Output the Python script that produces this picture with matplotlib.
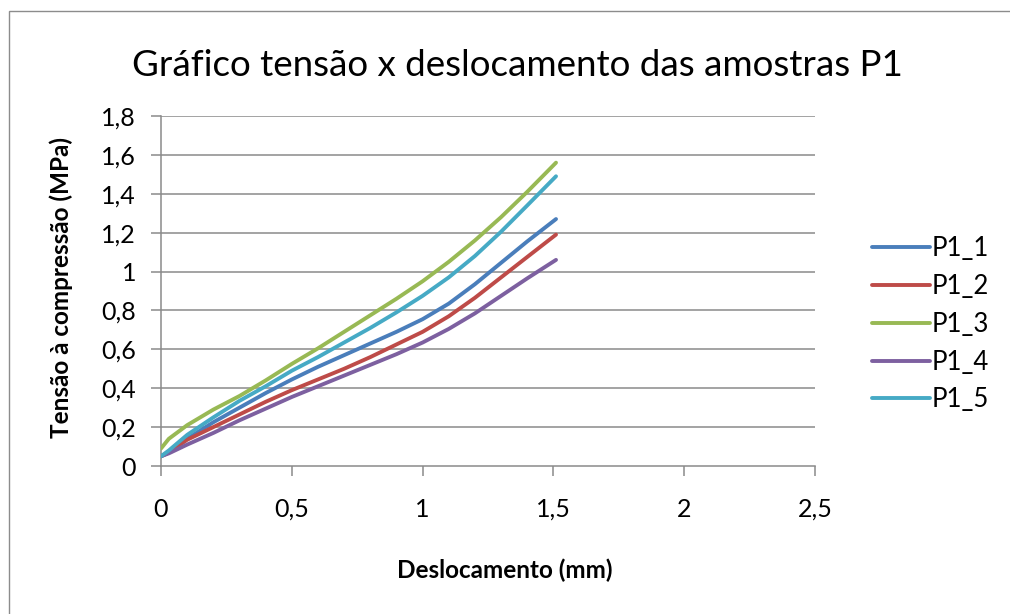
import matplotlib
matplotlib.use("Agg")
import matplotlib.pyplot as plt
from matplotlib.patches import Rectangle
from matplotlib.ticker import FuncFormatter

plt.rcParams['font.family'] = ['Lato', 'DejaVu Sans']

# Displacement (mm) sample points
deslocamento = [0.0, 0.03, 0.10, 0.20, 0.30, 0.40, 0.50, 0.60, 0.70, 0.80,
                0.90, 1.00, 1.10, 1.20, 1.30, 1.40, 1.51]

# Compressive stress (MPa) for each specimen
p1_1 = [0.05, 0.07, 0.14, 0.225, 0.30, 0.375, 0.445, 0.51, 0.57, 0.63,
        0.69, 0.755, 0.835, 0.935, 1.045, 1.155, 1.27]
p1_2 = [0.05, 0.07, 0.135, 0.20, 0.265, 0.33, 0.39, 0.445, 0.50, 0.56,
        0.625, 0.69, 0.77, 0.865, 0.97, 1.075, 1.19]
p1_3 = [0.09, 0.14, 0.21, 0.29, 0.36, 0.44, 0.525, 0.605, 0.69, 0.775,
        0.86, 0.95, 1.05, 1.16, 1.28, 1.41, 1.56]
p1_4 = [0.05, 0.065, 0.11, 0.17, 0.235, 0.295, 0.355, 0.41, 0.465, 0.52,
        0.575, 0.635, 0.705, 0.785, 0.875, 0.965, 1.06]
p1_5 = [0.05, 0.08, 0.16, 0.25, 0.335, 0.41, 0.49, 0.56, 0.635, 0.71,
        0.79, 0.875, 0.97, 1.08, 1.205, 1.34, 1.49]

series = {
    "P1_1": (p1_1, "#4A7EBB"),
    "P1_2": (p1_2, "#BE4B48"),
    "P1_3": (p1_3, "#98B954"),
    "P1_4": (p1_4, "#7D60A0"),
    "P1_5": (p1_5, "#46AAC5"),
}

x_ticks = [0, 0.5, 1, 1.5, 2, 2.5]
y_ticks = [0, 0.2, 0.4, 0.6, 0.8, 1.0, 1.2, 1.4, 1.6, 1.8]

fig = plt.figure(figsize=(10.10, 6.14), dpi=100)
fig.patch.set_facecolor("white")

# chart frame
fig.patches.append(Rectangle((9 / 1010, -0.1), 1.2, 1 - 11 / 614 + 0.1,
                             transform=fig.transFigure, fill=False,
                             edgecolor="#8c8c8c", linewidth=1.0))

ax = fig.add_axes([161 / 1010, 1 - 466 / 614, (815 - 161) / 1010, (466 - 116) / 614])

grid_c = "#8a8a8a"
for yv in y_ticks[1:]:
    ax.axhline(yv, color=grid_c, linewidth=1.1, zorder=1)

for name, (vals, col) in series.items():
    ax.plot(deslocamento, vals, color=col, linewidth=2.8, label=name,
            solid_capstyle="round", solid_joinstyle="round", zorder=3)

ax.set_xlim(0, 2.5)
ax.set_ylim(0, 1.8)
ax.set_xticks(x_ticks)
ax.set_yticks(y_ticks)


def virgula(v, pos):
    s = ("%g" % round(v, 2))
    return s.replace(".", ",")


ax.xaxis.set_major_formatter(FuncFormatter(virgula))
ax.yaxis.set_major_formatter(FuncFormatter(virgula))

for side in ("top", "right"):
    ax.spines[side].set_visible(False)
for side in ("left", "bottom"):
    ax.spines[side].set_color(grid_c)
    ax.spines[side].set_linewidth(1.1)

ax.tick_params(axis="both", direction="out", color=grid_c, width=1.1,
               length=7, labelsize=18, labelcolor="black")
ax.tick_params(axis="x", pad=16)
ax.tick_params(axis="y", pad=11)

ax.set_xlabel("Deslocamento (mm)", fontsize=17.5, fontweight="bold")
ax.xaxis.set_label_coords(0.5, 1 - 570 / 614, transform=fig.transFigure)
ax.xaxis.label.set_va("center")
ax.set_ylabel("Tensão à compressão (MPa)", fontsize=17.5, fontweight="bold")
ax.yaxis.set_label_coords(61 / 1010, 1 - 288 / 614, transform=fig.transFigure)
ax.yaxis.label.set_va("center")

fig.text(517 / 1010, 1 - 65 / 614, "Gráfico tensão x deslocamento das amostras P1",
         ha="center", va="center", fontsize=26.5)

leg = ax.legend(loc="upper left", bbox_to_anchor=(872 / 1010, 1 - 236 / 614),
                bbox_transform=fig.transFigure, frameon=False, fontsize=18.5,
                handlelength=2.26, handletextpad=0.08, labelspacing=0.50,
                borderaxespad=0, borderpad=0)

fig.savefig("out.png", dpi=100, facecolor="white")
